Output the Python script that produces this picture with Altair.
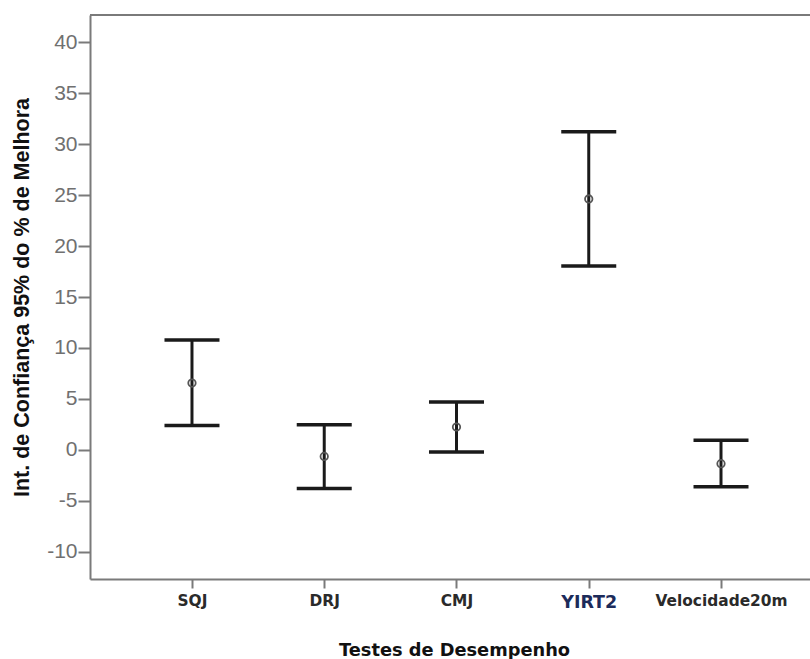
import altair as alt
import pandas as pd

tests = ["SQJ", "DRJ", "CMJ", "YIRT2", "Velocidade20m"]
means = [6.55, -0.66, 2.23, 24.63, -1.37]
lower = [2.39, -3.80, -0.23, 18.04, -3.63]
upper = [10.78, 2.46, 4.68, 31.24, 0.92]
y_ticks = [-10, -5, 0, 5, 10, 15, 20, 25, 30, 35, 40]

df = pd.DataFrame({"teste": tests, "media": means, "inf": lower, "sup": upper})

W, H = 720, 564
AXIS_GREY = "#7a7a7a"
BAR = "#1a1a1a"

x_enc = alt.X(
    "teste:N",
    sort=tests,
    scale=alt.Scale(type="point", padding=0.722, align=0.534),
    axis=alt.Axis(
        title="Testes de Desempenho",
        titleFont="DejaVu Sans",
        titleFontSize=17.8,
        titleFontWeight="bold",
        titleColor="#111111",
        titleX=364,
        titleY=71,
        titleBaseline="middle",
        labelAngle=0,
        labelFont="DejaVu Sans",
        labelFontWeight="bold",
        labelFontSize={"condition": {"test": "datum.value == 'YIRT2'", "value": 17.5}, "value": 15.4},
        labelColor={"condition": {"test": "datum.value == 'YIRT2'", "value": "#1c2b5a"}, "value": "#2a2a2a"},
        labelPadding=5,
        tickSize=9,
        tickWidth=2,
        tickColor=AXIS_GREY,
        domainColor=AXIS_GREY,
        domainWidth=2,
        grid=False,
    ),
)

y_scale = alt.Scale(domain=[-12.7, 42.7], nice=False, zero=False)
y_axis = alt.Axis(
    title="Int. de Confiança 95% do % de Melhora",
    titleFont="Liberation Sans",
    titleFontSize=21.5,
    titleFontWeight="bold",
    titleColor="#111111",
    titleX=-68,
    titleY=H / 2,
    titleAngle=-90,
    titleAlign="center",
    titleBaseline="middle",
    values=y_ticks,
    labelExpr="'' + datum.value",
    labelFont="Liberation Sans",
    labelFontSize=21,
    labelColor="#707070",
    labelPadding=1,
    tickSize=12,
    tickWidth=2,
    tickColor=AXIS_GREY,
    domainColor=AXIS_GREY,
    domainWidth=2,
    grid=False,
)

base = alt.Chart(df)

stem = base.mark_rule(color=BAR, strokeWidth=3).encode(
    x=x_enc,
    y=alt.Y("inf:Q", scale=y_scale, axis=y_axis),
    y2="sup:Q",
)

cap_low = base.mark_tick(color=BAR, size=55, thickness=3.5, opacity=1).encode(
    x=alt.X("teste:N", sort=tests),
    y=alt.Y("inf:Q"),
)
cap_high = base.mark_tick(color=BAR, size=55, thickness=3.5, opacity=1).encode(
    x=alt.X("teste:N", sort=tests),
    y=alt.Y("sup:Q"),
)

mean_pts = base.mark_point(
    shape="circle", filled=False, size=55, stroke="#555555", strokeWidth=1.8, opacity=1
).encode(
    x=alt.X("teste:N", sort=tests),
    y=alt.Y("media:Q"),
)

top_border = alt.Chart(df).mark_rule(color=AXIS_GREY, strokeWidth=2).encode(
    x=alt.value(0), x2=alt.value(W), y=alt.value(0)
)

chart = (
    alt.layer(stem, cap_low, cap_high, mean_pts, top_border)
    .properties(
        width=W,
        height=H,
        autosize=alt.AutoSizeParams(type="none"),
        padding={"left": 90, "top": 15, "right": 0, "bottom": 80},
        background="white",
    )
    .configure_view(stroke=None)
)

chart.save("out.html", embed_options={"renderer": "svg", "actions": False})
